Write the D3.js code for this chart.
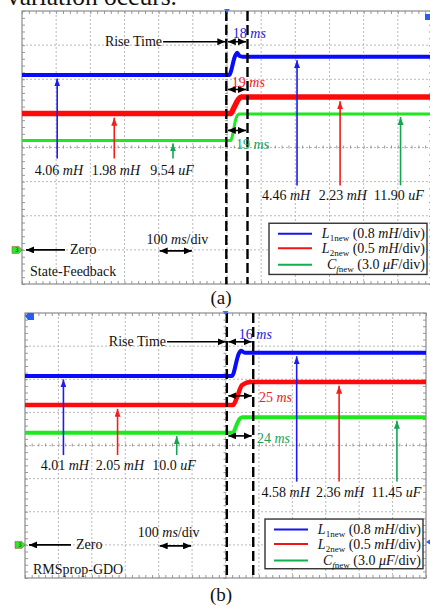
<!DOCTYPE html>
<html>
<head>
<meta charset="utf-8">
<script src="https://cdn.jsdelivr.net/npm/d3@7"></script>
<style>
  body { margin: 0; background: #fff; }
  svg { display: block; font-family: "Liberation Serif", "Times New Roman", serif; }
</style>
</head>
<body>
<svg id="fig" width="430" height="607"></svg>
<script>
// channel settings, units per division
const chanSubs = [[{t: '1new'}], [{t: '2new'}], [{t: 'f', i: true}, {t: 'new'}]]
const chanLetters = ['L', 'L', 'C']
const perDiv = [0.8, 0.5, 3.0]
const chanUnits = ['mH', 'mH', 'uF']
const legendScale = ['0.8', '0.5', '3.0']
const legendUnits = ['mH', 'mH', '\u03bcF']

// time base: 12 divisions of 100 ms, trigger in the middle
const timeDomain = [-600, 600]

// traces, [time in ms, value]
const l1A = [[-600, 4.10], [6, 4.10], [24, 4.55], [30, 4.62], [36, 4.55], [45, 4.53], [600, 4.53]]
const l2A = [[-600, 2.00], [11, 2.00], [20, 2.08], [34, 2.21], [41, 2.24], [600, 2.24]]
const cfA = [[-600, 9.62], [11, 9.62], [17, 10.2], [24, 11.3], [31, 11.85], [38, 11.94], [600, 11.94]]

const l1B = [[-600, 4.08], [19, 4.08], [40, 4.62], [46, 4.69], [58, 4.64], [600, 4.64]]
const l2B = [[-600, 2.11], [22, 2.11], [34, 2.22], [49, 2.41], [74, 2.46], [600, 2.46]]
const cfB = [[-600, 10.16], [22, 10.16], [28, 10.45], [35, 11.0], [42, 11.4], [50, 11.56], [600, 11.56]]

// level labels and rise times as printed
const beforeTextA = ['4.06', '1.98', '9.54']
const afterTextA = ['4.46', '2.23', '11.90']
const beforeTextB = ['4.01', '2.05', '10.0']
const afterTextB = ['4.58', '2.36', '11.45']
const riseA = [18, 19, 19]
const riseB = [16, 25, 24]
const cursorsA = [-2, 60]
const cursorsB = [4, 83]

const traceColors = ['#0a0aff', '#ff0a0a', '#1ee81e']
const arrowColors = ['#1c1cf0', '#f51c1c', '#12a650']
const textColors = ['#2222dd', '#f02020', '#22a055']
const legendColors = ['#1515ee', '#f01515', '#10b050']

const panels = [
  {
    left: 22, top: 11, width: 410, height: 273,
    traces: [l1A, l2A, cfA], widths: [4, 5.5, 3],
    before: beforeTextA, after: afterTextA, rise: riseA, cursors: cursorsA,
    name: 'State-Feedback', caption: '(a)', captionY: 304,
    arrowT: [[-497, -330, -158], [205, 331, 508]],
    labelT: [[-492, -325, -161], [173, 339, 503]],
    arrowBase: [2.68, 1.89], labelDiv: [2.35, 1.62],
    riseEnd: -190, riseArrowDiv: [6.1, 4.7, 3.5],
    riseTextT: [17, 14, 26], riseTextDiv: [6.36, 4.93, 3.09],
    zeroStart: 70, scaleTextT: -145, scaleTextDiv: 0.33, nameDiv: -0.63, legendRight: 5
  },
  {
    left: 25, top: 313, width: 401, height: 265,
    traces: [l1B, l2B, cfB], widths: [4, 4.5, 4],
    before: beforeTextB, after: afterTextB, rise: riseB, cursors: cursorsB,
    name: 'RMSprop-GDO', caption: '(b)', captionY: 601,
    arrowT: [[-485, -323, -146], [213, 340, 513]],
    labelT: [[-481, -316, -154], [180, 343, 511]],
    arrowBase: [2.71, 1.91], labelDiv: [2.41, 1.61],
    riseEnd: -178, riseArrowDiv: [6.13, 4.5, 3.29],
    riseTextT: [40, 100, 94], riseTextDiv: [6.37, 4.47, 3.24],
    zeroStart: 76, scaleTextT: -170, scaleTextDiv: 0.4, nameDiv: -0.73, legendRight: 3
  }
]

const svg = d3.select('#fig')
const defs = svg.append('defs')

// arrow heads, one per colour
function arrowHead (id, color, w, h) {
  defs.append('marker')
    .attr('id', id)
    .attr('viewBox', '0 0 10 10')
    .attr('refX', 10).attr('refY', 5)
    .attr('markerUnits', 'userSpaceOnUse')
    .attr('markerWidth', w).attr('markerHeight', h)
    .attr('preserveAspectRatio', 'none')
    .attr('orient', 'auto-start-reverse')
    .append('path')
    .attr('d', 'M0,0 L10,5 L0,10 z')
    .attr('fill', color)
}
arrowHead('ah-k', '#000', 8, 7)
arrowColors.forEach((c, i) => arrowHead('ah-' + i, c, 8, 6))

// text made of plain / italic / subscript pieces
function richText (g, x, y, parts, opts) {
  const t = g.append('text').attr('x', x).attr('y', y)
    .attr('font-size', opts.size || 14)
    .attr('fill', opts.color || '#111')
    .attr('text-anchor', opts.anchor || 'start')
  parts.forEach(p => {
    const s = t.append('tspan').text(p.t)
    if (p.i) s.attr('font-style', 'italic')
    if (p.sub) s.attr('font-size', 9)
    if (p.dy) s.attr('dy', p.dy)
  })
  return t
}

// top line of the page, cut by the frame
svg.append('text').attr('x', 7).attr('y', 5)
  .attr('font-size', 26).attr('fill', '#111')
  .attr('textLength', 170).attr('lengthAdjust', 'spacingAndGlyphs')
  .text('variation occurs.')

panels.forEach((p, pi) => {
  const g = svg.append('g')
  const x = d3.scaleLinear().domain(timeDomain).range([p.left, p.left + p.width])
  // vertical scale in divisions, zero marker one division above the bottom
  const yDiv = d3.scaleLinear().domain([-1, 7]).range([p.top + p.height, p.top])
  const divPx = p.height / 8

  const clipId = 'clip' + pi
  defs.append('clipPath').attr('id', clipId)
    .append('rect').attr('x', p.left).attr('y', p.top).attr('width', p.width).attr('height', p.height)

  // dotted graticule
  const majorT = d3.range(-500, 600, 100)
  const majorD = d3.range(0, 7, 1)
  g.append('g').selectAll('line').data(majorT).enter().append('line')
    .attr('x1', d => x(d)).attr('x2', d => x(d))
    .attr('y1', p.top).attr('y2', p.top + p.height)
    .attr('stroke', '#b8b8b8').attr('stroke-dasharray', '2,2')
  g.append('g').selectAll('line').data(majorD).enter().append('line')
    .attr('x1', p.left).attr('x2', p.left + p.width)
    .attr('y1', d => yDiv(d)).attr('y2', d => yDiv(d))
    .attr('stroke', '#b8b8b8').attr('stroke-dasharray', '2,2')

  // minor ticks on the frame and on the centre lines
  const minorT = d3.range(-600, 601, 20)
  const minorD = d3.range(-1, 7.01, 0.2)
  const tickAxes = [
    [d3.axisBottom(x).tickValues(minorT), `translate(0,${p.top})`],
    [d3.axisTop(x).tickValues(minorT), `translate(0,${p.top + p.height})`],
    [d3.axisBottom(x).tickValues(minorT), `translate(0,${yDiv(3) - 2})`],
    [d3.axisRight(yDiv).tickValues(minorD), `translate(${p.left},0)`],
    [d3.axisLeft(yDiv).tickValues(minorD), `translate(${p.left + p.width},0)`],
    [d3.axisRight(yDiv).tickValues(minorD), `translate(${x(0) - 2},0)`]
  ]
  tickAxes.forEach(([ax, tr]) => {
    const a = g.append('g').attr('transform', tr)
      .call(ax.tickSize(3).tickFormat(''))
    a.select('.domain').remove()
    a.selectAll('line').attr('stroke', '#999')
  })
  g.append('rect').attr('x', p.left).attr('y', p.top)
    .attr('width', p.width).attr('height', p.height)
    .attr('fill', 'none').attr('stroke', '#8c8c8c').attr('stroke-width', 1.2)

  // traces
  const line = d3.line().curve(d3.curveMonotoneX)
  p.traces.forEach((tr, i) => {
    g.append('path').datum(tr)
      .attr('clip-path', `url(#${clipId})`)
      .attr('d', line.x(d => x(d[0])).y(d => yDiv(d[1] / perDiv[i])))
      .attr('fill', 'none')
      .attr('stroke', traceColors[i])
      .attr('stroke-width', p.widths[i])
  })

  // cursors
  g.selectAll('line.cursor').data(p.cursors).enter().append('line')
    .attr('class', 'cursor')
    .attr('x1', d => x(d)).attr('x2', d => x(d))
    .attr('y1', p.top).attr('y2', p.top + p.height)
    .attr('stroke', '#000').attr('stroke-width', 2.4)
    .attr('stroke-dasharray', '10,4')

  // level arrows with their readings
  const texts = [p.before, p.after]
  ;[0, 1].forEach(side => {
    p.traces.forEach((tr, i) => {
      const level = side === 0 ? tr[0][1] : tr[tr.length - 1][1]
      const tipY = yDiv(level / perDiv[i]) + p.widths[i] / 2 + 1.5
      const ax = x(p.arrowT[side][i])
      g.append('line')
        .attr('x1', ax).attr('x2', ax)
        .attr('y1', yDiv(p.arrowBase[side])).attr('y2', tipY)
        .attr('stroke', arrowColors[i]).attr('stroke-width', 1.6)
        .attr('marker-end', `url(#ah-${i})`)
      richText(g, x(p.labelT[side][i]), yDiv(p.labelDiv[side]) + 5,
        [{t: texts[side][i] + ' '}, {t: chanUnits[i], i: true}], {anchor: 'middle'})
    })
  })

  // rise time annotation
  const c0 = x(p.cursors[0])
  const c1 = x(p.cursors[1])
  const riseY = yDiv(p.riseArrowDiv[0])
  richText(g, x(p.riseEnd), riseY + 4, [{t: 'Rise Time'}], {anchor: 'end'})
  g.append('line')
    .attr('x1', x(p.riseEnd) + 1).attr('x2', c0 - 1)
    .attr('y1', riseY).attr('y2', riseY)
    .attr('stroke', '#000').attr('stroke-width', 1.6)
    .attr('marker-end', 'url(#ah-k)')
  p.rise.forEach((r, i) => {
    const yy = yDiv(p.riseArrowDiv[i])
    g.append('line')
      .attr('x1', c0 + 1.5).attr('x2', c1 - 1.5)
      .attr('y1', yy).attr('y2', yy)
      .attr('stroke', '#000').attr('stroke-width', 1.6)
      .attr('marker-start', 'url(#ah-k)')
      .attr('marker-end', 'url(#ah-k)')
    richText(g, x(p.riseTextT[i]), yDiv(p.riseTextDiv[i]) + 5,
      [{t: r + ' '}, {t: 'ms', i: true}], {color: textColors[i]})
  })

  // zero marker and arrow
  const zy = yDiv(0)
  g.append('path')
    .attr('d', `M${p.left - 10},${zy - 3.5} h7 l3,3.5 l-3,3.5 h-7 z`)
    .attr('fill', '#2ee82e').attr('stroke', '#c03030').attr('stroke-width', 0.5)
  g.append('text').attr('x', p.left - 7).attr('y', zy + 2.5)
    .attr('font-size', 6).attr('font-family', 'DejaVu Sans').attr('fill', '#0a5a0a').text('3')
  g.append('line')
    .attr('x1', p.zeroStart - 5).attr('x2', p.left + 4)
    .attr('y1', zy).attr('y2', zy)
    .attr('stroke', '#000').attr('stroke-width', 1.6)
    .attr('marker-end', 'url(#ah-k)')
  richText(g, p.zeroStart, zy + 4, [{t: 'Zero'}], {})

  // time base
  const sy = yDiv(0) + 1
  g.append('line')
    .attr('x1', x(-200) + 1).attr('x2', x(-100) - 1)
    .attr('y1', sy).attr('y2', sy)
    .attr('stroke', '#000').attr('stroke-width', 1.6)
    .attr('marker-start', 'url(#ah-k)')
    .attr('marker-end', 'url(#ah-k)')
  richText(g, x(p.scaleTextT), yDiv(p.scaleTextDiv) + 5,
    [{t: '100 '}, {t: 'ms', i: true}, {t: '/div'}], {anchor: 'middle'})

  richText(g, p.left + 8, yDiv(p.nameDiv) + 5, [{t: p.name}], {})

  // trigger marker
  g.append('path')
    .attr('d', `M${x(0) - 3},${p.top - 2} h6 l-3,4 z`)
    .attr('fill', '#3a6ff0')

  // legend
  const lw = 158
  const lx = p.left + p.width - p.legendRight - lw
  const ly = yDiv(0.78)
  const lh = divPx * 1.5
  g.append('rect').attr('x', lx).attr('y', ly).attr('width', lw).attr('height', lh)
    .attr('fill', '#fff').attr('stroke', '#333').attr('stroke-width', 1.4)
  const rowY = [10.5, 25, 41.5]
  chanLetters.forEach((n, i) => {
    g.append('line')
      .attr('x1', lx + 9).attr('x2', lx + 43)
      .attr('y1', ly + rowY[i]).attr('y2', ly + rowY[i])
      .attr('stroke', legendColors[i]).attr('stroke-width', 2)
    const subs = chanSubs[i].map((s, k) => Object.assign({sub: true, dy: k === 0 ? 3 : null}, s))
    richText(g, lx + lw - 2, ly + rowY[i] + 4.5, [
      {t: n, i: true}
    ].concat(subs, [
      {t: (i === 2 ? '  (' : ' (') + legendScale[i] + ' ', dy: -3},
      {t: legendUnits[i], i: true},
      {t: '/div)'}
    ]), {anchor: 'end', size: 14})
  })

  // caption
  svg.append('text').attr('x', 221).attr('y', p.captionY)
    .attr('text-anchor', 'middle').attr('font-size', 19).attr('fill', '#111')
    .text(p.caption)
})

// small channel tags at the frame corners
svg.append('rect').attr('x', 425).attr('y', 14).attr('width', 6).attr('height', 6).attr('fill', '#2a5ef0')
svg.append('path').attr('d', 'M25,316 l3,-3 h6 v7 h-6 z').attr('fill', '#2a5ef0')
svg.append('path').attr('d', 'M426,542 l4,-2.5 v5 z').attr('fill', '#2a5ef0')
</script>
</body>
</html>
